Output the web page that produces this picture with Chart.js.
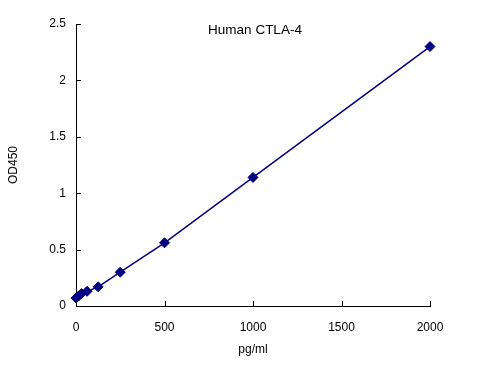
<!DOCTYPE html>
<html>
<head>
<meta charset="utf-8">
<script src="https://cdn.jsdelivr.net/npm/chart.js@4"></script>
<style>
html, body { margin: 0; padding: 0; background: #fff; }
#wrap { width: 481px; height: 380px; }
</style>
</head>
<body>
<div id="wrap"><canvas id="curve" width="481" height="380"></canvas></div>
<script>
const chartTitle = "Human CTLA-4";
const concentrations = [0, 15.6, 31.25, 62.5, 125, 250, 500, 1000, 2000];
const odValues = [0.07, 0.09, 0.11, 0.13, 0.17, 0.30, 0.56, 1.14, 2.30];
const xTicks = [0, 500, 1000, 1500, 2000];
const yTicks = [0, 0.5, 1, 1.5, 2, 2.5];

const navy = "#000080";
const font = { family: "'Liberation Sans', Arial, sans-serif", size: 12 };

const points = concentrations.map((c, i) => ({ x: c, y: odValues[i] }));

// title inside the plot area + tick marks pointing inward
const extras = {
  id: "extras",
  afterDraw(chart) {
    const { ctx, chartArea, scales } = chart;
    ctx.save();
    ctx.strokeStyle = "#000";
    ctx.lineWidth = 1;
    ctx.beginPath();
    xTicks.forEach(v => {
      const px = Math.round(scales.x.getPixelForValue(v)) + 0.5;
      ctx.moveTo(px, chartArea.bottom);
      ctx.lineTo(px, chartArea.bottom - 5);
    });
    yTicks.forEach(v => {
      const py = Math.round(scales.y.getPixelForValue(v)) + 0.5;
      ctx.moveTo(chartArea.left, py);
      ctx.lineTo(chartArea.left + 5, py);
    });
    ctx.stroke();
    ctx.font = "13.5px " + font.family;
    ctx.fillStyle = "#000";
    ctx.textAlign = "center";
    ctx.textBaseline = "middle";
    ctx.fillText(chartTitle, (chartArea.left + chartArea.right) / 2 + 2, chartArea.top + 6);
    ctx.restore();
  }
};

new Chart(document.getElementById("curve"), {
  type: "scatter",
  data: {
    datasets: [{
      data: points,
      showLine: true,
      clip: false,
      borderColor: navy,
      backgroundColor: navy,
      borderWidth: 1.5,
      pointStyle: "rectRot",
      pointRadius: 5,
      pointBorderWidth: 1,
      tension: 0
    }]
  },
  options: {
    responsive: false,
    animation: false,
    layout: { padding: { left: 0, right: 51, top: 24, bottom: 0 } },
    plugins: { legend: { display: false }, tooltip: { enabled: false } },
    scales: {
      x: {
        type: "linear",
        min: 0,
        max: 2000,
        afterBuildTicks: s => { s.ticks = xTicks.map(v => ({ value: v })); },
        afterFit: s => { s.height = 74; },
        grid: { drawOnChartArea: false, drawTicks: false },
        border: { display: true, color: "#000", width: 1 },
        ticks: { color: "#000", font: font, padding: 14, maxRotation: 0, callback: v => String(v) },
        title: { display: true, text: "pg/ml", color: "#000", font: font, padding: { top: 4, bottom: 23 } }
      },
      y: {
        min: 0,
        max: 2.5,
        afterBuildTicks: s => { s.ticks = yTicks.map(v => ({ value: v })); },
        afterFit: s => { s.width = 76; },
        grid: { drawOnChartArea: false, drawTicks: false },
        border: { display: true, color: "#000", width: 1 },
        ticks: { color: "#000", font: font, padding: 10, callback: v => String(v) },
        title: { display: true, text: "OD450", color: "#000", font: font, padding: { top: 6, bottom: 4 } }
      }
    }
  },
  plugins: [extras]
});
</script>
</body>
</html>
